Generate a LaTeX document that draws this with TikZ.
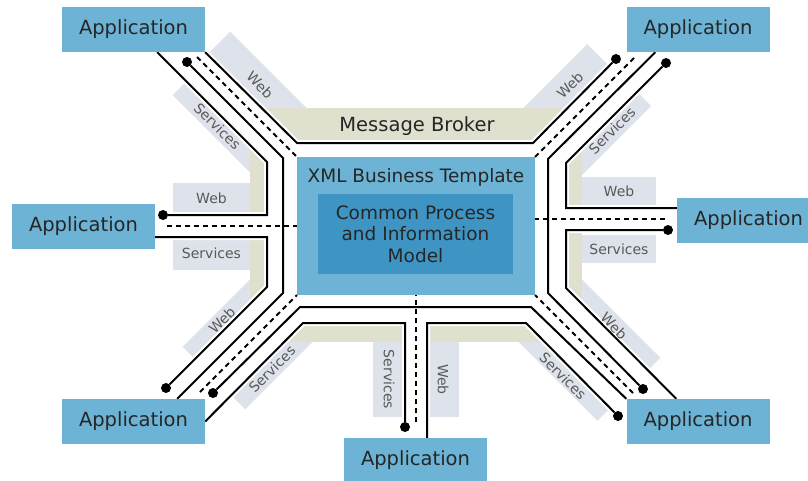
\documentclass[tikz,border=0pt]{standalone}
\usepackage{fontspec}
\setmainfont{DejaVu Sans}
\definecolor{appblue}{RGB}{108,179,213}
\definecolor{coreblue}{RGB}{62,149,196}
\definecolor{tagbg}{RGB}{221,226,235}
\definecolor{brokerbg}{RGB}{224,224,207}
\pgfdeclarelayer{bg}
\pgfsetlayers{bg,main}

\begin{document}
\begin{tikzpicture}[x=1pt,y=-1pt,
  app/.style={fill=appblue,minimum width=143pt,minimum height=45pt,inner sep=0pt,
    text=black!85,font=\fontsize{19.5}{23}\selectfont},
  tagbox/.style={fill=tagbg,inner sep=0pt,text=black!65,font=\fontsize{14}{16}\selectfont},
  tagtext/.style={inner sep=0pt,text=black!65,font=\fontsize{14}{16}\selectfont},
  wire/.style={line width=2pt,preaction={draw=white,line width=6pt}},
  dashwire/.style={line width=2pt,dash pattern=on 5pt off 4pt},
  plug/.style={circle,fill=black,inner sep=0pt,minimum size=10pt}]
\useasboundingbox (0,0) rectangle (808,480);

% applications
\node[app] (appTL) at (133.5,29.5) {Application};
\node[app] (appTR) at (698,29.5) {Application};
\node[app] (appL) at (83.5,226) {Application};
\node[app] (appR) at (748.5,220) {Application};
\node[app] (appBL) at (133.5,421.5) {Application};
\node[app] (appBR) at (698,421.5) {Application};
\node[app] (appB) at (415.5,460.5) {Application};

% template in the middle
\node[fill=appblue,minimum width=238pt,minimum height=138pt,inner sep=0pt,outer sep=0pt] (xml) at (416,226) {};
\node[text=black!85,font=\fontsize{18.5}{21}\selectfont] (xmltitle) at (416,177) {XML Business Template};
\node[fill=coreblue,minimum width=195pt,minimum height=80pt,inner sep=0pt,align=center,
  text=black!85,font=\fontsize{18.5}{21.5}\selectfont] (core) at (415.5,234) {Common Process\\and Information\\Model};
\node[text=black!85,font=\fontsize{19.5}{23}\selectfont] (broker) at (417,126) {Message Broker};

% plugs
\node[plug] (pTL) at (187,62) {};
\node[plug] (pTRa) at (616,59) {};
\node[plug] (pTRb) at (666,63) {};
\node[plug] (pL) at (163,215) {};
\node[plug] (pR) at (668,230) {};
\node[plug] (pBLa) at (166,388) {};
\node[plug] (pBLb) at (213,393) {};
\node[plug] (pBRa) at (643,389) {};
\node[plug] (pBRb) at (618,416) {};
\node[plug] (pB) at (405,427) {};

% labels on the diagonal strips
\node[tagtext,rotate=-45] (tTLw) at (260,85) {Web};
\node[tagtext,rotate=-45] (tTLs) at (217.5,126.5) {Services};
\node[tagtext,rotate=45] (tTRw) at (570,85) {Web};
\node[tagtext,rotate=45] (tTRs) at (612,130.5) {Services};
\node[tagtext,rotate=45] (tBLw) at (222,320) {Web};
\node[tagtext,rotate=45] (tBLs) at (272,369) {Services};
\node[tagtext,rotate=-45] (tBRw) at (614,326) {Web};
\node[tagtext,rotate=-45] (tBRs) at (563,376) {Services};

\begin{pgfonlayer}{bg}
% strips behind the labels
\node[tagbox,minimum width=170pt,minimum height=32pt,rotate=-45] (sTLw) at (279,103) {};
\node[tagbox,minimum width=170pt,minimum height=19pt,rotate=-45] (sTLs) at (239.5,148.5) {};
\node[tagbox,minimum width=170pt,minimum height=32pt,rotate=45] (sTRw) at (538.5,115.5) {};
\node[tagbox,minimum width=170pt,minimum height=20pt,rotate=45] (sTRs) at (584,159) {};
\node[tagbox,minimum width=170pt,minimum height=18pt,rotate=45] (sBLw) at (249,293) {};
\node[tagbox,minimum width=170pt,minimum height=18pt,rotate=45] (sBLs) at (299,343) {};
\node[tagbox,minimum width=170pt,minimum height=18pt,rotate=-45] (sBRw) at (594,304) {};
\node[tagbox,minimum width=170pt,minimum height=19pt,rotate=-45] (sBRs) at (544,354) {};
\node[tagbox,minimum width=77pt,minimum height=30pt] (tgLw) at (211.5,198) {Web};
\node[tagbox,minimum width=77pt,minimum height=33pt] (tgLs) at (211.5,253.5) {Services};
\node[tagbox,minimum width=74pt,minimum height=28pt] (tgRw) at (619,191) {Web};
\node[tagbox,minimum width=74pt,minimum height=28pt] (tgRs) at (619,249) {Services};
\node[tagbox,minimum width=75pt,minimum height=32pt,rotate=-90] (tgBs) at (389,379.5) {Services};
\node[tagbox,minimum width=75pt,minimum height=32pt,rotate=-90] (tgBw) at (443,379.5) {Web};

% broker ring and the channels through it
\fill[brokerbg] (250,108) rectangle (582,342);
\fill[white] (205,52) -- (297,143) -- (533,143) -- (616,59) -- (666,63) -- (566,163)
  -- (566,208) -- (677,208) -- (668,230) -- (566,230) -- (566,288) -- (676,398)
  -- (618,416) -- (526,323) -- (427,323) -- (427,438) -- (405,427) -- (405,323)
  -- (303,323) -- (205,421) -- (166,388) -- (267,287) -- (267,237) -- (155,237)
  -- (163,215) -- (267,215) -- (267,162) -- (157,52) -- cycle;

% wires
\draw[wire] (appTL.south east) -- (297,143) -- (533,143) -- (pTRa);
\draw[wire] (pTL) -- (283,158) -- (283,293) -- ([xshift=-28pt]appBL.north east);
\draw[wire] ([xshift=-48pt]appTL.south east) -- (267,162) -- (267,215) -- (pL);
\draw[wire] ([yshift=-11pt]appL.east) -- (267,237) -- (267,287) -- (pBLa);
\draw[wire] (pBLb) -- (300,307) -- (531,307) -- (appBR.north west);
\draw[wire] ([xshift=29pt]appTR.south west) -- (548,159) -- (548,293) -- (pBRa);
\draw[wire] (pTRb) -- (566,163) -- (566,208) -- ([yshift=12pt]appR.west);
\draw[wire] (pR) -- (566,230) -- (566,288) -- ([xshift=50pt]appBR.north west);
\draw[wire] (appBL.east) -- (303,323) -- (405,323) -- (pB);
\draw[wire] ([xshift=11.5pt]appB.north) -- (427,323) -- (526,323) -- (pBRb);

\draw[dashwire] (197,57) -- (xml.north west);
\draw[dashwire] (634,58) -- (xml.north east);
\draw[dashwire] (167,226) -- (xml.west);
\draw[dashwire] (665,219) -- ([yshift=7pt]xml.east);
\draw[dashwire] (200,392) -- (xml.south west);
\draw[dashwire] (633,393) -- (xml.south east);
\draw[dashwire] (416,422) -- (xml.south);
\end{pgfonlayer}
\end{tikzpicture}
\end{document}
